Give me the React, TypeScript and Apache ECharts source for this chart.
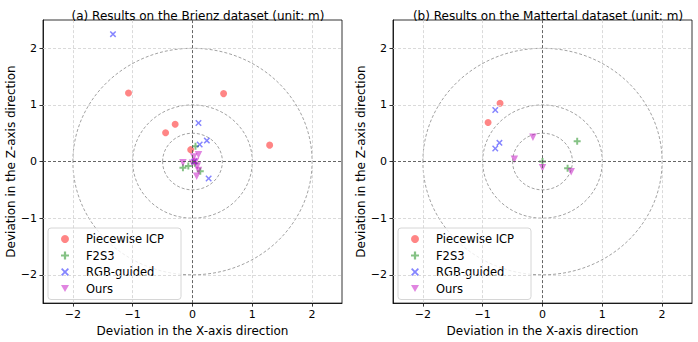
import React, { useEffect, useRef } from "react";
import * as echarts from "echarts";

const seriesNames = ["Piecewise ICP", "F2S3", "RGB-guided", "Ours"];
const titles = [
  "(a) Results on the Brienz dataset (unit: m)",
  "(b) Results on the Mattertal dataset (unit: m)",
];
const tickValues = [-2, -1, 0, 1, 2];
const gridLineValues = [-2, -1, 1, 2];
const circleRadii = [0.5, 1, 2];

// Brienz
const brienzICP = [[-1.07, 1.21], [0.52, 1.2], [-0.29, 0.66], [-0.45, 0.51], [1.29, 0.29], [-0.03, 0.21]];
const brienzF2S3 = [[0.05, 0.27], [-0.16, -0.11], [-0.07, -0.08], [0.13, -0.17], [0.04, -0.03]];
const brienzRGB = [[-1.33, 2.25], [0.1, 0.68], [0.24, 0.37], [0.12, 0.3], [0.27, -0.3], [0.03, 0.0]];
const brienzOurs = [[-0.16, -0.02], [0.1, 0.12], [0.02, 0.08], [0.0, -0.03], [0.08, -0.08], [0.1, -0.16], [0.07, -0.26], [0.05, 0.0]];

// Mattertal
const mattICP = [[-0.71, 1.03], [-0.91, 0.69]];
const mattF2S3 = [[0.58, 0.36], [0.0, 0.0], [0.42, -0.12]];
const mattRGB = [[-0.79, 0.91], [-0.72, 0.33], [-0.79, 0.23]];
const mattOurs = [[-0.16, 0.43], [-0.47, 0.04], [0.0, -0.11], [0.48, -0.18]];

const PLUS = "path://M3.6,0H6.4V3.6H10V6.4H6.4V10H3.6V6.4H0V3.6H3.6Z";
const CROSS = "path://M1.6,0L5,3.4L8.4,0L10,1.6L6.6,5L10,8.4L8.4,10L5,6.6L1.6,10L0,8.4L3.4,5L0,1.6Z";
const TRI_DOWN = "path://M0,0H10L5,9Z";

const styles = [
  { symbol: "circle", size: 7, color: "rgba(255,0,0,0.6)" },
  { symbol: PLUS, size: 7, color: "rgba(0,128,0,0.6)" },
  { symbol: CROSS, size: 6.5, color: "rgba(0,0,255,0.6)" },
  { symbol: TRI_DOWN, size: 7.5, color: "rgba(191,0,191,0.6)" },
];

const FONT = "DejaVu Sans";
const fmt = (v: number) => (v < 0 ? "\u2212" + Math.abs(v) : String(v));

export default function App() {
  const ref = useRef<HTMLDivElement>(null);
  useEffect(() => {
    if (!ref.current) return;
    const chart = echarts.init(ref.current, undefined, { renderer: "svg" });
    const grids = [
      { left: 43, right: 356, top: 20, bottom: 38 },
      { left: 393, right: 6, top: 20, bottom: 38 },
    ];
    const datasets = [
      [brienzICP, brienzF2S3, brienzRGB, brienzOurs],
      [mattICP, mattF2S3, mattRGB, mattOurs],
    ];
    const axisCommon = (name: string, gi: number, isY: boolean) => ({
      type: "value",
      gridIndex: gi,
      min: -2.5,
      max: 2.5,
      name,
      nameLocation: "middle",
      nameGap: isY ? 23 : 16,
      nameTextStyle: { fontFamily: FONT, fontSize: 12, color: "#000" },
      axisLine: { show: true, onZero: false, lineStyle: { color: "#000", width: 0.8 } },
      axisTick: { show: true, customValues: tickValues, length: 3.5, lineStyle: { color: "#000", width: 0.8 } },
      axisLabel: {
        customValues: tickValues,
        formatter: fmt,
        fontFamily: FONT,
        fontSize: 11,
        color: "#000",
        margin: 6,
      },
      splitLine: { show: false },
    });
    const series: any[] = [];
    const lightDash = { color: "#d0d0d0", type: [3, 2], width: 0.8 };
    const zeroDash = { color: "#555", type: [3, 2], width: 0.9 };
    for (let g = 0; g < 2; g++) {
      series.push({
        type: "custom",
        xAxisIndex: g,
        yAxisIndex: g,
        silent: true,
        z: 1,
        data: circleRadii.map((r) => [0, 0, r]),
        renderItem: (params: any, api: any) => {
          const c = api.coord([api.value(0), api.value(1)]);
          const s = api.size([api.value(2), api.value(2)]);
          return {
            type: "ellipse",
            shape: { cx: c[0], cy: c[1], rx: s[0], ry: s[1] },
            style: { fill: "none", stroke: "#8a8a8a", lineWidth: 0.8, lineDash: [3, 2] },
          };
        },
        markLine: {
          silent: true,
          symbol: ["none", "none"],
          label: { show: false },
          animation: false,
          data: [
            ...gridLineValues.map((v) => ({ xAxis: v, lineStyle: lightDash })),
            ...gridLineValues.map((v) => ({ yAxis: v, lineStyle: lightDash })),
            { xAxis: 0, lineStyle: zeroDash },
            { yAxis: 0, lineStyle: zeroDash },
          ],
        },
      });
      seriesNames.forEach((name, i) => {
        series.push({
          type: "scatter",
          name,
          xAxisIndex: g,
          yAxisIndex: g,
          z: 3,
          symbol: styles[i].symbol,
          symbolSize: styles[i].size,
          itemStyle: { color: styles[i].color },
          data: datasets[g][i],
        });
      });
    }
    const legendBase = (left: number) => ({
      left,
      top: 228,
      orient: "vertical",
      itemWidth: 8,
      itemHeight: 8,
      itemGap: 2.5,
      padding: [4, 10, 4, 13],
      backgroundColor: "rgba(255,255,255,0.8)",
      borderColor: "#cccccc",
      borderWidth: 0.8,
      borderRadius: 3,
      selectedMode: false,
      textStyle: { fontFamily: FONT, fontSize: 11.5, color: "#000", lineHeight: 14, padding: [0, 0, 0, 12], width: 85 },
      data: seriesNames.map((n, i) => ({ name: n, icon: styles[i].symbol, itemStyle: { color: styles[i].color } })),
    });
    chart.setOption({
      animation: false,
      backgroundColor: "#fff",
      title: [
        { text: titles[0], left: 193, top: 5, textAlign: "center", textStyle: { fontFamily: FONT, fontSize: 12, fontWeight: "normal", color: "#000" } },
        { text: titles[1], left: 543, top: 5, textAlign: "center", textStyle: { fontFamily: FONT, fontSize: 12, fontWeight: "normal", color: "#000" } },
      ],
      grid: grids.map((g) => ({ ...g, show: true, borderColor: "#000", borderWidth: 0.8, backgroundColor: "transparent" })),
      xAxis: [0, 1].map((g) => ({ ...axisCommon("Deviation in the X-axis direction", g, false), position: "bottom" })),
      yAxis: [0, 1].map((g) => ({ ...axisCommon("Deviation in the Z-axis direction", g, true), position: "left" })),
      legend: [legendBase(48), legendBase(398)],
      series,
    });
    return () => chart.dispose();
  }, []);
  return <div ref={ref} style={{ position: "absolute", left: 0, top: 0, width: 698, height: 342 }} />;
}
